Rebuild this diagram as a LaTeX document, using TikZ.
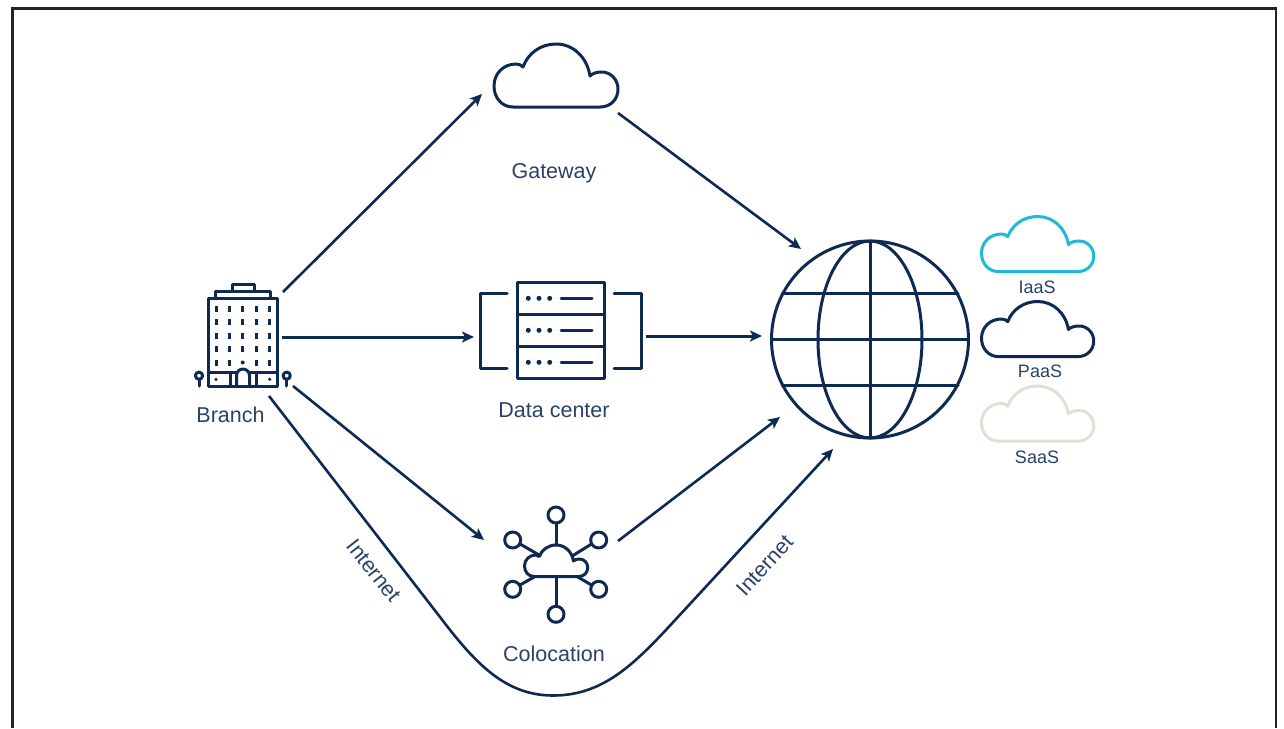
\documentclass[tikz,border=0pt]{standalone}
\usepackage{fontspec}
\setmainfont{Liberation Sans}
\usetikzlibrary{arrows.meta}
\definecolor{navy}{HTML}{0F2A52}
\definecolor{labelc}{HTML}{2B4268}
\definecolor{cyanc}{HTML}{1FB9DA}
\definecolor{sandc}{HTML}{E3DFD5}
\definecolor{framec}{HTML}{242424}
\tikzset{
  x=1pt,y=-1pt,
  icon/.style={draw=navy,line width=3pt,line join=round,line cap=round},
  conn/.style={draw=navy,line width=2.6pt,-{Stealth[length=12pt,width=11pt,inset=3pt]}},
  connflat/.style={conn,line width=3pt},
  lab/.style={text=labelc,font=\fontsize{21.5}{24}\selectfont,inner sep=0pt,anchor=base},
  smalllab/.style={text=labelc,font=\fontsize{18}{20}\selectfont,inner sep=0pt,anchor=base},
  pics/cloudshape/.style={code={
    \path[pic actions] (19,63) .. controls (8,63) and (0,54) .. (0,42)
      .. controls (0,29) and (10,20) .. (22,20)
      .. controls (25,20) and (27,21) .. (29,23)
      .. controls (34,9) and (47,0) .. (62,0)
      .. controls (79,0) and (93,13) .. (96,32)
      .. controls (99,29) and (103,28) .. (108,28)
      .. controls (117,28) and (124,36) .. (124,45)
      .. controls (124,55) and (117,63) .. (106,63) -- cycle;
  }}
}
\begin{document}
\begin{tikzpicture}
\useasboundingbox[fill=white] (0,0) rectangle (1284,728);
% frame
\draw[framec,line width=2.6pt,line join=miter] (12.5,728) -- (12.5,8.5) -- (1276,8.5) -- (1276,728);

% Gateway
\pic[icon] at (494,44) {cloudshape};
\node[lab] (gatewaylab) at (554,178) {Gateway};

% Right clouds
\pic[icon,draw=cyanc,xscale=.905,yscale=.875] at (981.5,216.5) {cloudshape};
\node[smalllab] (iaas) at (1037,293) {IaaS};
\pic[icon,xscale=.905,yscale=.875] at (981.5,301.5) {cloudshape};
\node[smalllab] (paas) at (1040,377) {PaaS};
\pic[icon,draw=sandc,xscale=.905,yscale=.875] at (981.5,386) {cloudshape};
\node[smalllab] (saas) at (1037,463) {SaaS};

% Globe
\coordinate (gc) at (870,339.5);
\draw[icon] (gc) circle[radius=98.5];
\draw[icon] (gc) ellipse[x radius=52,y radius=98.5];
\draw[icon] (870,241) -- (870,438);
\draw[icon] (771.5,339.5) -- (968.5,339.5);
\draw[icon] (782,293) -- (958,293);
\draw[icon] (782,385.5) -- (958,385.5);

% Data center
\draw[icon] (517.5,282.5) rectangle (604,378.5);
\draw[icon] (517.5,314) -- (604,314);
\draw[icon] (517.5,346.5) -- (604,346.5);
\foreach \yy in {298.3,330.3,362.3}{
  \foreach \xx in {528.3,539,549.7}{
    \fill[navy] (\xx,\yy) circle[radius=2.5];
  }
  \draw[icon] (561,\yy) -- (592,\yy);
}
\draw[icon] (507,293) -- (480,293) -- (480,368) -- (507,368);
\draw[icon] (614,293) -- (641,293) -- (641,368) -- (614,368);
\node[lab] (dclab) at (554,417) {Data center};

% Branch
\draw[icon] (208.5,298) rectangle (277.7,386.5);
\draw[icon] (215,298) -- (215,291.7) -- (270.7,291.7) -- (270.7,298);
\draw[icon] (232,291.7) -- (232,284.5) -- (254,284.5) -- (254,291.7);
\foreach \xx in {216,229.3,242.7,256.3,269.7}{
  \foreach \yy in {305.5,319,332.5,346}{
    \draw[navy,line width=3pt] (\xx,\yy) -- ++(0,6);
  }
}
\foreach \xx in {216,229.3,256.3,269.7}{
  \draw[navy,line width=3pt] (\xx,359.5) -- ++(0,6);
}
\fill[navy] (242.7,362.5) circle[radius=2];
\draw[icon] (208.5,372.3) -- (236.5,372.3);
\draw[icon] (249.5,372.3) -- (277.7,372.3);
\draw[icon] (236.5,386.5) -- (236.5,375.5) arc[start angle=180,end angle=360,radius=6.5] -- (249.5,386.5);
\draw[icon] (230,372.3) -- (230,386.5);
\draw[icon] (256,372.3) -- (256,386.5);
\fill[navy] (216,379.3) circle[radius=1.8];
\fill[navy] (269.7,379.3) circle[radius=1.8];
\draw[icon] (199,375.7) circle[radius=3.6];
\draw[icon] (199,379.3) -- (199,386);
\draw[icon] (286.7,375.7) circle[radius=3.6];
\draw[icon] (286.7,379.3) -- (286.7,386);
\node[lab] (branchlab) at (230.5,422) {Branch};

% Colocation
\pic[icon,xscale=.51,yscale=.5] at (524.5,545) {cloudshape};
\draw[icon] (556,515) circle[radius=8];
\draw[icon] (556,523) -- (556,545);
\draw[icon] (512.7,540) circle[radius=8];
\draw[icon] (520,544) -- (540,555.5);
\draw[icon] (598.7,540) circle[radius=8];
\draw[icon] (591.5,544) -- (573,555.5);
\draw[icon] (512.7,589.3) circle[radius=8];
\draw[icon] (520,585) -- (535,576.5);
\draw[icon] (598.7,589.3) circle[radius=8];
\draw[icon] (591.5,585) -- (577,576.5);
\draw[icon] (556,614.3) circle[radius=8];
\draw[icon] (556,606) -- (556,576.5);
\node[lab] (colab) at (554,661) {Colocation};

% connector ends
\coordinate (branchNE) at (283,292);
\coordinate (branchE) at (282,337);
\coordinate (branchSE) at (293,386);
\coordinate (branchS) at (269,396);
\coordinate (gwW) at (482,94);
\coordinate (gwE) at (618,113);
\coordinate (dcW) at (474,337);
\coordinate (dcE) at (646,336);
\coordinate (coW) at (484,540);
\coordinate (coE) at (618,541);
\coordinate (globeNW) at (801,249);
\coordinate (globeW) at (762,336);
\coordinate (globeSW) at (780,417);
\coordinate (globeS) at (833,449);

\draw[conn] (branchNE) -- (gwW);
\draw[conn] (gwE) -- (globeNW);
\draw[connflat] (branchE) -- (dcW);
\draw[connflat] (dcE) -- (globeW);
\draw[conn] (branchSE) -- (coW);
\draw[conn] (coE) -- (globeSW);
\draw[conn] (branchS) -- (440,617) .. controls (475,663) and (505,695.5) .. (553,695.5)
   .. controls (600,695.5) and (630,668) .. (665,631) -- (globeS);

\node[lab,anchor=center,rotate=-51.7] (inetL) at (374,570.5) {Internet};
\node[lab,anchor=center,rotate=47.5] (inetR) at (764.5,565.5) {Internet};
\end{tikzpicture}
\end{document}
